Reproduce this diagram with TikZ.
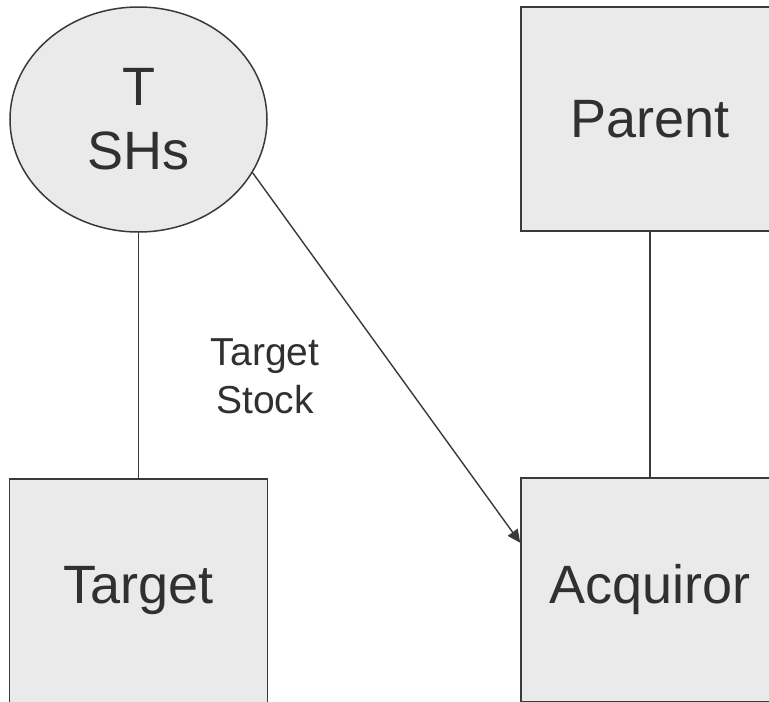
\documentclass[tikz,border=0pt]{standalone}
\usepackage{fontspec}
\setmainfont{Liberation Sans}
\usepackage{tikz}
\usetikzlibrary{arrows.meta,shapes.geometric}
\definecolor{dealfill}{HTML}{EAEAEA}
\definecolor{dealline}{HTML}{3A3A3A}
\definecolor{dealink}{HTML}{303030}

\begin{document}
\begin{tikzpicture}[
  x=1pt, y=-1pt,
  entity/.style={draw=dealline, fill=dealfill, line width=1.5pt, inner sep=0pt, minimum width=258pt, minimum height=224pt, text=dealink, font=\fontsize{54}{64}\selectfont, align=center},
  holders/.style={entity, ellipse, minimum width=257pt, minimum height=225pt},
  link/.style={draw=dealline, line width=1.4pt},
  arr/.style={-{Triangle[length=13pt,width=12pt]}, draw=dealline, fill=dealline, line width=1.4pt}
]
\useasboundingbox (0,0) rectangle (769,702);
\node[holders] (tsh) at (138.5,119.5) {T\\SHs};
\node[entity] (par) at (650,119) {Parent};
\node[entity] (tgt) at (138.5,591) {Target};
\node[entity] (acq) at (650,590) {Acquiror};
\node[text=dealink, align=center, font=\fontsize{39}{48}\selectfont] (stk) at (265,376) {Target\\Stock};
\draw[link] (tsh.south) -- (tgt.north);
\draw[link] (par) -- (acq);
\draw[arr] (tsh.-25) -- (acq.160.8);
\end{tikzpicture}
\end{document}
